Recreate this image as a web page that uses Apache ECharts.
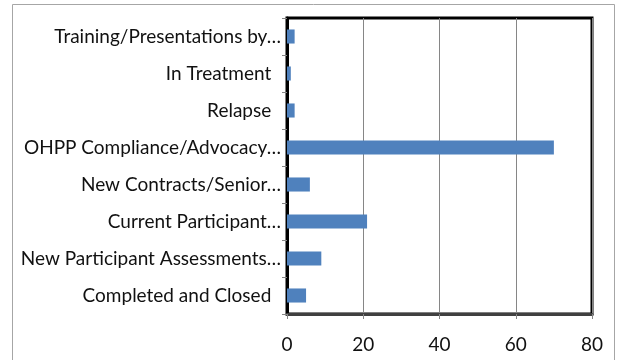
<!DOCTYPE html>
<html><head><meta charset="utf-8">
<script src="https://cdn.jsdelivr.net/npm/echarts@6/dist/echarts.min.js"></script>
<style>html,body{margin:0;padding:0;background:#fff;}#c{width:624px;height:360px;}</style>
</head><body><div id="c"></div>
<script>
const categories = ["Completed and Closed  ", "New Participant Assessments\u2026", "Current Participant\u2026", "New Contracts/Senior\u2026", "OHPP Compliance/Advocacy\u2026", "Relapse  ", "In Treatment  ", "Training/Presentations by\u2026"];
const values = [5, 9, 21, 6, 70, 2, 1, 2];
const xTicks = [0, 20, 40, 60, 80];

const chart = echarts.init(document.getElementById('c'), null, {renderer: 'canvas'});
const font = 'Lato';
chart.setOption({
  animation: false,
  graphic: [{type: 'rect', shape: {x: 12.5, y: 4.5, width: 602, height: 400}, style: {fill: 'none', stroke: '#a6a6a6', lineWidth: 1}, z: -1}],
  grid: {left: 287, right: 32, top: 18, bottom: 46, show: true, borderColor: '#000', borderWidth: 3},
  xAxis: {
    type: 'value', min: xTicks[0], max: xTicks[xTicks.length - 1], interval: 20,
    axisLine: {show: true, lineStyle: {color: '#404040', width: 3}},
    axisTick: {show: true, length: 5, lineStyle: {color: '#868686'}},
    splitLine: {show: true, lineStyle: {color: '#868686', width: 1}},
    axisLabel: {color: '#111', fontFamily: font, fontSize: 19, margin: 21}
  },
  yAxis: {
    type: 'category', data: categories,
    axisLine: {show: true, lineStyle: {color: '#000', width: 3}},
    axisTick: {show: true, length: 5, lineStyle: {color: '#868686'}},
    axisLabel: {color: '#111', fontFamily: font, fontSize: 19, margin: 6}
  },
  series: [{type: 'bar', data: values, barWidth: '38%', itemStyle: {color: '#4F81BD'}}]
});
</script></body></html>
